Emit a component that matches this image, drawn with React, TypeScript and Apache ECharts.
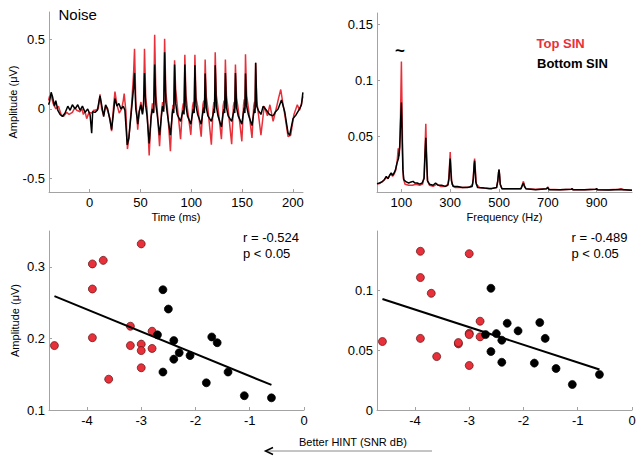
import React, { useEffect, useRef } from 'react';
import * as echarts from 'echarts';

// ---------- Data ----------
// Top-left: time-domain response (ms, µV)
const timeRed: [number, number][] = [
  [-40.5, 0.06], [-39.5, 0.09], [-37.9, 0.10], [-36, 0.04], [-33.3, 0.0], [-30.7, 0.02], [-28.1, -0.04],
  [-25.8, -0.055], [-22.5, -0.025], [-20.2, -0.04], [-17, -0.025], [-14.5, 0.01], [-12.7, -0.01], [-9.4, -0.02],
  [-7.5, 0.0], [-6.2, -0.04], [-4.5, -0.02], [-2.9, -0.07], [-0.6, -0.025], [2, -0.03], [4, -0.01], [5.3, -0.01],
  [8.5, 0.0], [10.2, 0.105], [11.8, 0.0], [13.8, -0.045], [15.7, 0.02], [17.7, -0.01], [20, -0.07], [21.6, -0.16],
  [23.6, 0.02], [24.9, 0.125], [26.9, 0.03], [29.1, -0.03], [31.5, 0.0], [33.1, 0.06], [34, 0.11], [35.7, -0.02],
  [37.2, -0.29], [38.6, -0.21], [41.3, 0.03], [43.2, 0.25], [44.2, 0.435],
  [45.4, 0.06], [46.6, -0.05], [47.3, -0.15], [48.8, -0.02], [50.5, 0.05], [52, -0.03], [53.1, 0.05], [54, 0.435],
  [55.2, 0.08], [56.5, 0.0], [58.6, -0.337], [60.5, -0.05], [61.8, 0.04], [63, -0.02], [64, 0.536],
  [65.2, 0.1], [66.5, 0.0], [68.8, -0.27], [70.8, -0.02], [71.8, 0.05], [72.9, 0.0], [73.8, 0.507],
  [75, 0.12], [76.4, 0.02], [79.5, -0.306], [81.2, -0.03], [82, 0.03], [82.8, 0.0], [83.6, 0.352],
  [84.7, 0.14], [86.2, 0.03], [89.5, -0.218], [91.3, 0.0], [92.2, 0.04], [92.9, -0.01], [93.7, 0.392],
  [94.8, 0.1], [96.3, 0.0], [99.6, -0.187], [101.3, 0.02], [102.2, 0.05], [102.9, 0.0], [103.6, 0.392],
  [104.7, 0.08], [106.3, 0.02], [109.8, -0.2], [111.5, 0.03], [112.3, 0.06], [113, 0.0], [113.7, 0.356],
  [114.8, 0.09], [116.4, 0.0], [119.8, -0.258], [121.5, 0.0], [122.3, 0.05], [122.9, 0.0], [123.6, 0.41],
  [124.7, 0.1], [126.3, 0.01], [129.7, -0.218], [131.4, 0.02], [132.3, 0.06], [132.9, 0.0], [133.6, 0.356],
  [134.7, 0.09], [136.3, 0.0], [139.8, -0.254], [141.5, 0.02], [142.3, 0.05], [142.8, 0.0], [143.5, 0.32],
  [144.6, 0.08], [146.2, 0.0], [149.8, -0.234], [151.5, 0.03], [152.2, 0.07], [152.8, 0.0], [153.4, 0.395],
  [154.5, 0.1], [156.2, 0.01], [159.8, -0.21], [161.5, 0.02], [162.3, 0.05], [162.8, 0.0], [163.4, 0.333],
  [164.5, 0.06], [166, -0.03], [168.6, -0.19], [171.8, 0.02], [175, -0.05], [177.4, 0.03], [180.6, -0.09],
  [183.9, 0.01], [186, 0.08], [188.1, 0.14], [190, 0.05], [192, -0.04], [195.3, -0.2], [197.9, -0.19],
  [201.1, -0.04], [204.4, 0.03], [206.6, -0.01], [208.5, 0.04], [209.9, 0.09],
];
const timeBlack: [number, number][] = [
  [-40.5, 0.03], [-39.5, 0.05], [-37.9, 0.12], [-36.6, 0.09], [-34.6, 0.02], [-33.3, 0.06], [-31.3, -0.01],
  [-29.1, -0.04], [-26.8, -0.055], [-24.2, -0.03], [-21.5, 0.02], [-19.2, -0.01], [-17, 0.03], [-14.3, 0.0],
  [-11.7, 0.03], [-9.4, -0.01], [-7.1, 0.02], [-4.5, -0.025], [-1.9, 0.0], [0.4, -0.04], [2, -0.175], [3, -0.02],
  [5.3, -0.025], [7.6, -0.01], [10.2, 0.095], [11.8, 0.03], [13.8, -0.055], [15.7, 0.03], [17.7, 0.0], [20, -0.08],
  [21.6, -0.15], [23.6, -0.02], [24.9, 0.075], [26.9, 0.02], [28.8, 0.04], [30.8, 0.0], [33.1, 0.02], [34.7, -0.01],
  [37, -0.26], [38.6, -0.21], [41.3, 0.0], [43.2, 0.15], [44.2, 0.26],
  [45.4, 0.0], [46.6, -0.06], [47.3, -0.11], [48.8, -0.02], [50.5, 0.03], [52, -0.04], [53.1, 0.03], [54, 0.26],
  [55.2, 0.02], [56.5, -0.05], [58.6, -0.25], [60.5, -0.06], [61.8, 0.0], [63, -0.03], [64, 0.32],
  [65.2, 0.03], [66.5, -0.04], [68.8, -0.19], [70.8, -0.04], [71.8, 0.02], [72.9, -0.02], [73.8, 0.41],
  [75, 0.05], [76.4, -0.03], [79.5, -0.19], [81.2, -0.05], [82, 0.0], [82.8, -0.03], [83.6, 0.32],
  [84.7, 0.04], [86.2, -0.04], [89.5, -0.09], [91.3, -0.03], [92.2, -0.01], [92.9, -0.04], [93.7, 0.32],
  [94.8, 0.02], [96.3, -0.05], [99.6, -0.11], [101.3, -0.03], [102.2, 0.0], [102.9, -0.03], [103.6, 0.316],
  [104.7, 0.02], [106.3, -0.04], [109.8, -0.11], [111.5, -0.02], [112.3, 0.01], [113, -0.03], [113.7, 0.256],
  [114.8, 0.01], [116.4, -0.05], [119.8, -0.09], [121.5, -0.04], [122.3, 0.0], [122.9, -0.03], [123.6, 0.316],
  [124.7, 0.02], [126.3, -0.05], [129.7, -0.13], [131.4, -0.03], [132.3, 0.0], [132.9, -0.03], [133.6, 0.26],
  [134.7, 0.01], [136.3, -0.05], [139.8, -0.09], [141.5, -0.03], [142.3, 0.0], [142.8, -0.03], [143.5, 0.26],
  [144.6, 0.01], [146.2, -0.05], [149.8, -0.11], [151.5, -0.02], [152.2, 0.01], [152.8, -0.03], [153.4, 0.256],
  [154.5, 0.02], [156.2, -0.04], [159.8, -0.12], [161.5, -0.03], [162.3, 0.0], [162.8, -0.03], [163.4, 0.333],
  [164.5, 0.02], [166, -0.01], [168.6, -0.04], [170.8, 0.02], [174, -0.01], [177, -0.04], [180.6, -0.05],
  [183, -0.02], [185.5, 0.0], [188.8, 0.065], [192, -0.02], [195.3, -0.175], [196.9, -0.19], [200.2, -0.07],
  [203.4, -0.04], [206.6, 0.0], [208.5, 0.03], [209.9, 0.12],
];

// Top-right: spectrum (Hz, µV)
const specRed: [number, number][] = [
  [0, 0.007], [10, 0.0075], [20, 0.009], [30, 0.011], [38, 0.013], [45, 0.012], [52, 0.015], [58, 0.016],
  [64, 0.014], [70, 0.016], [76, 0.019], [82, 0.026], [87, 0.039], [91, 0.032], [95, 0.05], [98, 0.09],
  [100, 0.1167], [102, 0.085], [105, 0.035], [108, 0.012], [115, 0.007], [130, 0.006], [145, 0.006], [160, 0.007],
  [175, 0.006], [187, 0.007], [193, 0.014], [197, 0.04], [200, 0.061], [203, 0.035], [207, 0.01], [215, 0.006],
  [230, 0.005], [245, 0.007], [260, 0.005], [280, 0.005], [292, 0.007], [296, 0.018], [300, 0.0357], [303, 0.02],
  [307, 0.007], [320, 0.004], [350, 0.004], [380, 0.0045], [392, 0.007], [396, 0.018], [400, 0.03], [403, 0.02],
  [407, 0.007], [420, 0.004], [460, 0.003], [490, 0.004], [495, 0.01], [498, 0.017], [500, 0.02], [502, 0.016],
  [505, 0.007], [512, 0.003], [550, 0.003], [590, 0.003], [596, 0.007], [600, 0.0095], [604, 0.006], [610, 0.003],
  [650, 0.0025], [695, 0.003], [700, 0.0045], [705, 0.0025], [750, 0.002], [797, 0.0025], [800, 0.003],
  [803, 0.002], [850, 0.002], [897, 0.0025], [900, 0.0032], [903, 0.002], [950, 0.002], [990, 0.0025],
  [1000, 0.003], [1010, 0.002], [1045, 0.0015],
];
const specBlack: [number, number][] = [
  [0, 0.0075], [10, 0.008], [20, 0.009], [30, 0.011], [38, 0.014], [45, 0.012], [52, 0.015], [58, 0.017],
  [64, 0.015], [70, 0.017], [76, 0.02], [82, 0.026], [88, 0.03], [93, 0.04], [97, 0.065], [100, 0.08],
  [103, 0.05], [106, 0.02], [110, 0.011], [120, 0.009], [130, 0.008], [140, 0.009], [148, 0.0095], [155, 0.008],
  [165, 0.008], [175, 0.007], [185, 0.008], [193, 0.012], [197, 0.035], [200, 0.0485], [203, 0.03], [207, 0.01],
  [215, 0.007], [230, 0.006], [240, 0.008], [250, 0.006], [265, 0.006], [280, 0.005], [290, 0.006], [295, 0.012],
  [298, 0.024], [300, 0.03], [302, 0.022], [305, 0.01], [312, 0.005], [330, 0.005], [350, 0.004], [370, 0.004],
  [390, 0.005], [395, 0.012], [398, 0.024], [400, 0.028], [402, 0.021], [405, 0.009], [412, 0.004], [440, 0.0035],
  [470, 0.003], [490, 0.004], [495, 0.01], [498, 0.017], [500, 0.02], [502, 0.016], [505, 0.007], [512, 0.003],
  [550, 0.003], [590, 0.003], [596, 0.006], [600, 0.008], [604, 0.005], [610, 0.003], [650, 0.002], [695, 0.003],
  [700, 0.004], [705, 0.002], [750, 0.002], [797, 0.0025], [800, 0.003], [803, 0.002], [850, 0.002],
  [897, 0.0025], [900, 0.003], [903, 0.002], [950, 0.0018], [1000, 0.0022], [1045, 0.0015],
];

// Bottom-left: HINT (SNR dB) vs amplitude
const leftRed: [number, number][] = [
  [-4.6, 0.19], [-3.9, 0.304], [-3.7, 0.309], [-3.9, 0.269], [-3.9, 0.201], [-3.6, 0.143], [-3.0, 0.332],
  [-3.2, 0.217], [-3.2, 0.19], [-3.0, 0.192], [-3.0, 0.183], [-3.0, 0.159], [-2.8, 0.21], [-2.8, 0.186],
];
const leftBlack: [number, number][] = [
  [-2.7, 0.205], [-2.6, 0.268], [-2.5, 0.241], [-2.4, 0.197], [-2.4, 0.171], [-2.3, 0.18], [-2.6, 0.153],
  [-2.1, 0.176], [-1.7, 0.202], [-1.6, 0.194], [-1.8, 0.138], [-1.4, 0.153], [-1.1, 0.12], [-0.6, 0.117],
];
const leftFit: [number, number][] = [[-4.6, 0.259], [-0.6, 0.135]];

// Bottom-right
const rightRed: [number, number][] = [
  [-4.6, 0.0574], [-3.9, 0.133], [-3.9, 0.111], [-3.7, 0.0978], [-3.9, 0.06], [-3.6, 0.0448], [-3.2, 0.0554],
  [-3.2, 0.0565], [-3.0, 0.131], [-3.0, 0.0643], [-3.0, 0.0632], [-3.0, 0.0373], [-2.8, 0.0744], [-2.8, 0.0613],
];
const rightBlack: [number, number][] = [
  [-2.7, 0.0632], [-2.6, 0.102], [-2.5, 0.064], [-2.4, 0.0585], [-2.4, 0.04], [-2.3, 0.0727], [-2.6, 0.049],
  [-2.1, 0.0663], [-1.7, 0.0733], [-1.6, 0.06], [-1.8, 0.0393], [-1.4, 0.0348], [-1.1, 0.0214], [-0.6, 0.0298],
];
const rightFit: [number, number][] = [[-4.6, 0.093], [-0.6, 0.034]];

const timeTicks = [0, 50, 100, 150, 200];
const freqTicks = [100, 300, 500, 700, 900];
const hintTicks = [-4, -3, -2, -1, 0];
const ampTicksTL = [-0.5, 0, 0.5];
const ampTicksTR = [0.05, 0.1, 0.15];
const ampTicksBL = [0.1, 0.2, 0.3];
const ampTicksBR = [0, 0.05, 0.1];

const RED = '#e8303a';
const AX = '#a3a3a3';
const FONT = 'Liberation Sans, Arial, sans-serif';

function xAx(gridIndex: number, min: number, max: number, ticks: number[], name?: string) {
  return {
    type: 'value', gridIndex, min, max, position: 'bottom',
    axisLine: { show: true, onZero: false, lineStyle: { color: AX, width: 1 } },
    axisTick: { show: true, inside: true, length: 3, lineStyle: { color: AX }, customValues: ticks },
    axisLabel: { color: '#000', fontSize: 13, fontFamily: FONT, margin: 4, customValues: ticks },
    splitLine: { show: false },
    name, nameLocation: 'middle', nameGap: 19,
    nameTextStyle: { fontSize: 11, color: '#000', fontFamily: FONT },
  };
}
function yAx(gridIndex: number, min: number, max: number, ticks: number[], name?: string) {
  return {
    type: 'value', gridIndex, min, max, position: 'left',
    axisLine: { show: true, onZero: false, lineStyle: { color: AX, width: 1 } },
    axisTick: { show: true, inside: true, length: 3, lineStyle: { color: AX }, customValues: ticks },
    axisLabel: { color: '#000', fontSize: 13, fontFamily: FONT, margin: 4, customValues: ticks },
    splitLine: { show: false },
    name, nameLocation: 'middle', nameGap: 29,
    nameTextStyle: { fontSize: 11, color: '#000', fontFamily: FONT },
  };
}

function txt(x: number, y: number, text: string, size: number, color = '#000', weight = 'normal') {
  return {
    type: 'text', x, y, z: 100,
    style: { text, fill: color, fontSize: size, fontFamily: FONT, fontWeight: weight, align: 'left', verticalAlign: 'middle' },
  };
}

export default function App() {
  const ref = useRef<HTMLDivElement>(null);
  useEffect(() => {
    const chart = echarts.init(ref.current!, null, { renderer: 'svg' });
    const dot = (color: string, border: string) => ({
      symbol: 'circle', symbolSize: 8,
      itemStyle: { color, borderColor: border, borderWidth: 0.7, opacity: 1 },
    });
    chart.setOption({
      animation: false,
      backgroundColor: '#fff',
      grid: [
        { left: 49, top: 12, width: 254, height: 180 },
        { left: 377, top: 13, width: 255, height: 179 },
        { left: 49, top: 231, width: 255, height: 179 },
        { left: 377, top: 231, width: 255, height: 179 },
      ],
      xAxis: [
        xAx(0, -40, 210, timeTicks, 'Time (ms)'),
        xAx(1, 0, 1045, freqTicks, 'Frequency (Hz)'),
        xAx(2, -4.7, 0, hintTicks),
        xAx(3, -4.7, 0, hintTicks),
      ],
      yAxis: [
        yAx(0, -0.6, 0.7, ampTicksTL, 'Amplitude (\u03bcV)'),
        yAx(1, 0, 0.16, ampTicksTR),
        yAx(2, 0.1, 0.35, ampTicksBL, 'Amplitude (\u03bcV)'),
        yAx(3, 0, 0.15, ampTicksBR),
      ],
      series: [
        { type: 'line', xAxisIndex: 0, yAxisIndex: 0, data: timeRed, showSymbol: false, lineStyle: { color: RED, width: 1.5 }, z: 2 },
        { type: 'line', xAxisIndex: 0, yAxisIndex: 0, data: timeBlack, showSymbol: false, lineStyle: { color: '#000', width: 1.5 }, z: 3 },
        { type: 'line', xAxisIndex: 1, yAxisIndex: 1, data: specRed, showSymbol: false, lineStyle: { color: RED, width: 1.5 }, z: 2 },
        { type: 'line', xAxisIndex: 1, yAxisIndex: 1, data: specBlack, showSymbol: false, lineStyle: { color: '#000', width: 1.5 }, z: 3 },
        { type: 'scatter', xAxisIndex: 2, yAxisIndex: 2, data: leftRed, ...dot(RED, '#5a1010') },
        { type: 'scatter', xAxisIndex: 2, yAxisIndex: 2, data: leftBlack, ...dot('#000', '#000') },
        { type: 'line', xAxisIndex: 2, yAxisIndex: 2, data: leftFit, showSymbol: false, lineStyle: { color: '#000', width: 2 }, z: 4 },
        { type: 'scatter', xAxisIndex: 3, yAxisIndex: 3, data: rightRed, ...dot(RED, '#5a1010') },
        { type: 'scatter', xAxisIndex: 3, yAxisIndex: 3, data: rightBlack, ...dot('#000', '#000') },
        { type: 'line', xAxisIndex: 3, yAxisIndex: 3, data: rightFit, showSymbol: false, lineStyle: { color: '#000', width: 2 }, z: 4 },
      ],
      graphic: [
        txt(58.5, 14.5, 'Noise', 15),
        txt(536.5, 43.5, 'Top SIN', 13, RED, 'bold'),
        txt(537, 63.5, 'Bottom SIN', 13, '#000', 'bold'),
        { type: 'text', x: 400, y: 50, z: 100, style: { text: '~', fill: '#000', fontSize: 17, fontFamily: FONT, fontWeight: 'bold', align: 'center', verticalAlign: 'middle' } },
        txt(243, 237.5, 'r = -0.524', 13),
        txt(243, 253.5, 'p < 0.05', 13),
        txt(571.5, 237.5, 'r = -0.489', 13),
        txt(571.5, 253.5, 'p < 0.05', 13),
        { type: 'text', x: 353, y: 441.5, z: 100, style: { text: 'Better HINT (SNR dB)', fill: '#000', fontSize: 11, fontFamily: FONT, align: 'center', verticalAlign: 'middle' } },
        { type: 'line', z: 100, shape: { x1: 266, y1: 451, x2: 432, y2: 451 }, style: { stroke: '#8a8a8a', lineWidth: 1 } },
        { type: 'polyline', z: 101, shape: { points: [[273, 447.5], [265.5, 451], [273, 454.5]] }, style: { stroke: '#000', lineWidth: 1.5, fill: 'none' } },
      ],
    });
    return () => chart.dispose();
  }, []);
  return <div ref={ref} style={{ position: 'absolute', left: 0, top: 0, width: 644, height: 463, background: '#fff' }} />;
}
